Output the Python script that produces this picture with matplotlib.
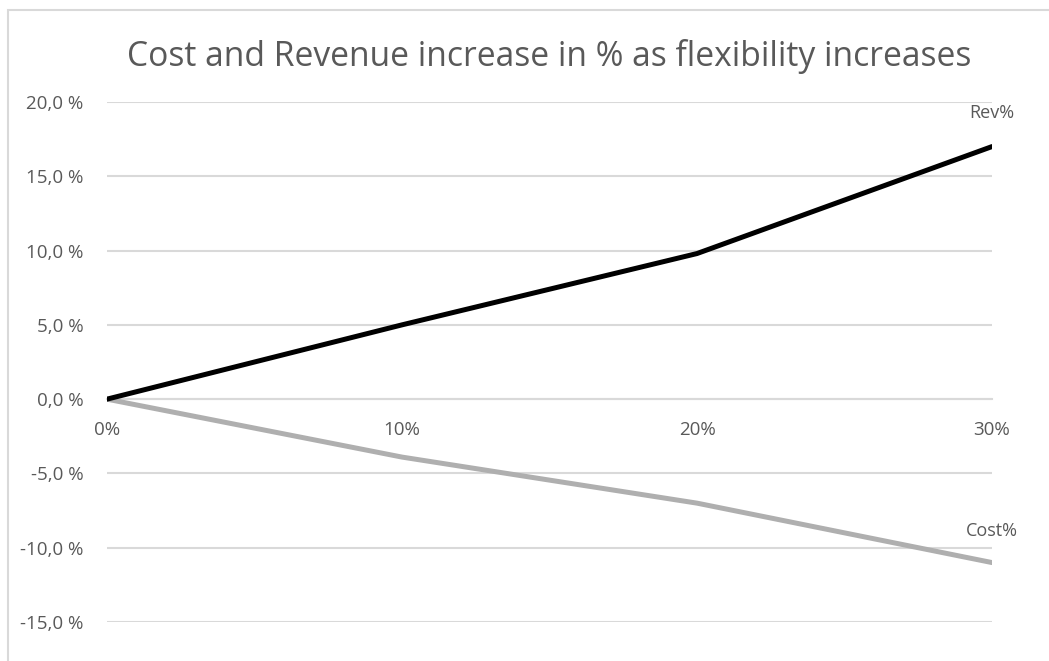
import matplotlib.pyplot as plt
from matplotlib.patches import Rectangle

# flexibility steps and the % change of revenue / cost
flex = ['0%', '10%', '20%', '30%']
rev_pct = [0.0, 5.0, 9.8, 17.0]
cost_pct = [0.0, -3.9, -7.0, -11.0]
yticks = [20, 15, 10, 5, 0, -5, -10, -15]

txt_col = '#595959'
grid_col = '#D9D9D9'

plt.rcParams['font.family'] = ['Open Sans', 'DejaVu Sans']

fig = plt.figure(figsize=(10.49, 6.61), dpi=100)
ax = fig.add_axes([107 / 1049, 1 - 622 / 661, (992 - 107) / 1049, (622 - 102) / 661])

# chart frame
fig.patches.append(Rectangle((7.5 / 1049, -0.1), 1.2, 1 - 10 / 661 + 0.1,
                             transform=fig.transFigure, fill=False,
                             edgecolor=grid_col, lw=1.5))

x = range(len(flex))
ax.plot(x, cost_pct, color='#AFAFAF', lw=3.6, solid_capstyle='round', zorder=3)
ax.plot(x, rev_pct, color='black', lw=3.6, solid_capstyle='round', zorder=4)

ax.annotate('Rev%', (x[-1], rev_pct[-1]), xytext=(0, 24), textcoords='offset points',
            ha='center', va='center', color=txt_col, fontsize=13)
ax.annotate('Cost%', (x[-1], cost_pct[-1]), xytext=(0, 23), textcoords='offset points',
            ha='center', va='center', color=txt_col, fontsize=13)

ax.set_xlim(0, len(flex) - 1)
ax.set_ylim(-15, 20)
ax.set_yticks(yticks)
ax.set_yticklabels([f'{v:.1f} %'.replace('.', ',') for v in yticks])
ax.set_xticks(list(x))
ax.set_xticklabels(flex)

for s in ['top', 'right', 'left']:
    ax.spines[s].set_visible(False)
ax.spines['bottom'].set_position(('data', 0))
ax.spines['bottom'].set_color(grid_col)
ax.spines['bottom'].set_linewidth(1.5)
ax.spines['bottom'].set_zorder(1)

ax.grid(axis='y', color=grid_col, lw=1.5, zorder=0)
ax.set_axisbelow(True)
ax.tick_params(axis='y', length=0, pad=17, labelsize=13.5, labelcolor=txt_col)
ax.tick_params(axis='x', length=0, pad=16, labelsize=13.5, labelcolor=txt_col)

fig.text(0.5 * (107 + 992) / 1049, 1 - 57 / 661,
         'Cost and Revenue increase in % as flexibility increases',
         ha='center', va='center', color=txt_col, fontsize=24.2)

fig.savefig('out.png', dpi=100, facecolor='white')
